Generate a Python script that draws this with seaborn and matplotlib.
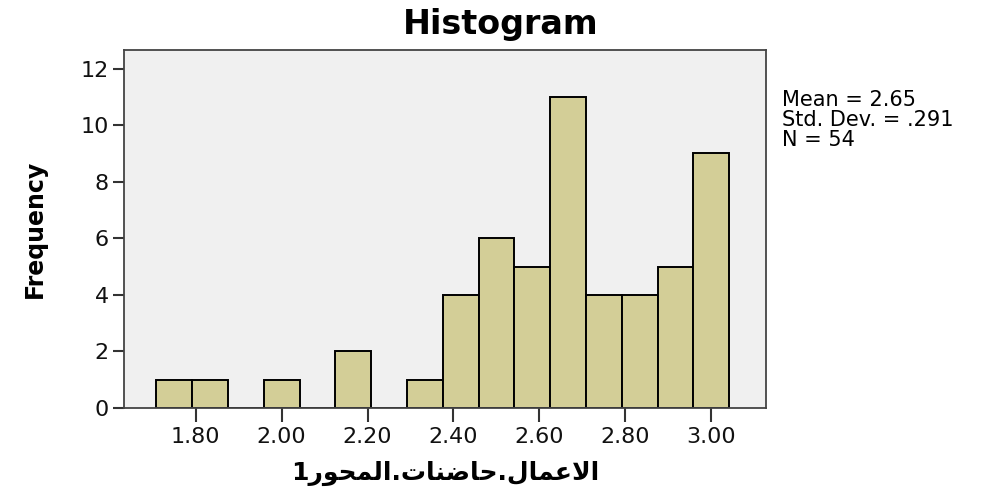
import numpy as np
import pandas as pd
import matplotlib
matplotlib.use("Agg")
import matplotlib.pyplot as plt
import seaborn as sns

score_num = [21, 22, 24, 26, 28, 29, 30, 31, 32, 33, 34, 35, 36]
counts = [1, 1, 1, 2, 1, 4, 6, 5, 11, 4, 4, 5, 9]
scores = [k / 12 for k in score_num]
x_ticks = [1.80, 2.00, 2.20, 2.40, 2.60, 2.80, 3.00]
x_tick_labels = ["1.80", "2.00", "2.20", "2.40", "2.60", "2.80", "3.00"]
y_ticks = [0, 2, 4, 6, 8, 10, 12]
stats_text = "Mean = 2.65\nStd. Dev. = .291\nN = 54"
# "الاعمال.حاضنات.المحور1" in pre-shaped glyphs, laid out left to right
x_label = "1\ufead\ufeee\ufea4\ufee4\ufedf\ufe8d.\ufe95\ufe8e\ufee8\ufebf\ufe8e\ufea3.\ufedd\ufe8e\ufee4\ufecb\ufefb\ufe8d"

df = pd.DataFrame({"score": scores, "count": counts})

sns.set_style("ticks")
plt.rcParams["font.family"] = ["DejaVu Sans"]
plt.rcParams["text.color"] = "black"

fig = plt.figure(figsize=(9.88, 4.97), dpi=100)
ax = fig.add_axes([0.1255, 0.179, 0.65, 0.72])
ax.set_facecolor("#f0f0f0")

sns.histplot(data=df, x="score", weights="count", binwidth=1 / 12,
             binrange=(20.5 / 12, 36.5 / 12), ax=ax,
             color="#d3ce97", alpha=1, edgecolor="black", linewidth=1.4)

ax.set_xlim(1.633, 3.128)
ax.set_ylim(0, 12.65)
ax.set_xticks(x_ticks)
ax.set_xticklabels(x_tick_labels)
ax.set_yticks(y_ticks)
ax.tick_params(axis="x", length=10, width=1.5, labelsize=16, color="#333333",
               labelcolor="#111111", pad=4)
ax.tick_params(axis="y", length=8, width=1.5, labelsize=16, color="#333333",
               labelcolor="#111111", pad=3)
for s in ax.spines.values():
    s.set_visible(True)
    s.set_color("#444444")
    s.set_linewidth(1.3)

ax.set_ylabel("Frequency", fontsize=17, fontweight="bold", labelpad=24,
              color="black")
ax.set_xlabel(x_label, fontsize=18, fontweight="bold", labelpad=10,
              color="black")

fig.text(0.507, 0.95, "Histogram", fontsize=24, fontweight="bold",
         ha="center", va="center", color="black")
fig.text(0.792, 0.818, stats_text, fontsize=15, ha="left", va="top",
         linespacing=0.98, color="black")

fig.savefig("out.png", dpi=100)
